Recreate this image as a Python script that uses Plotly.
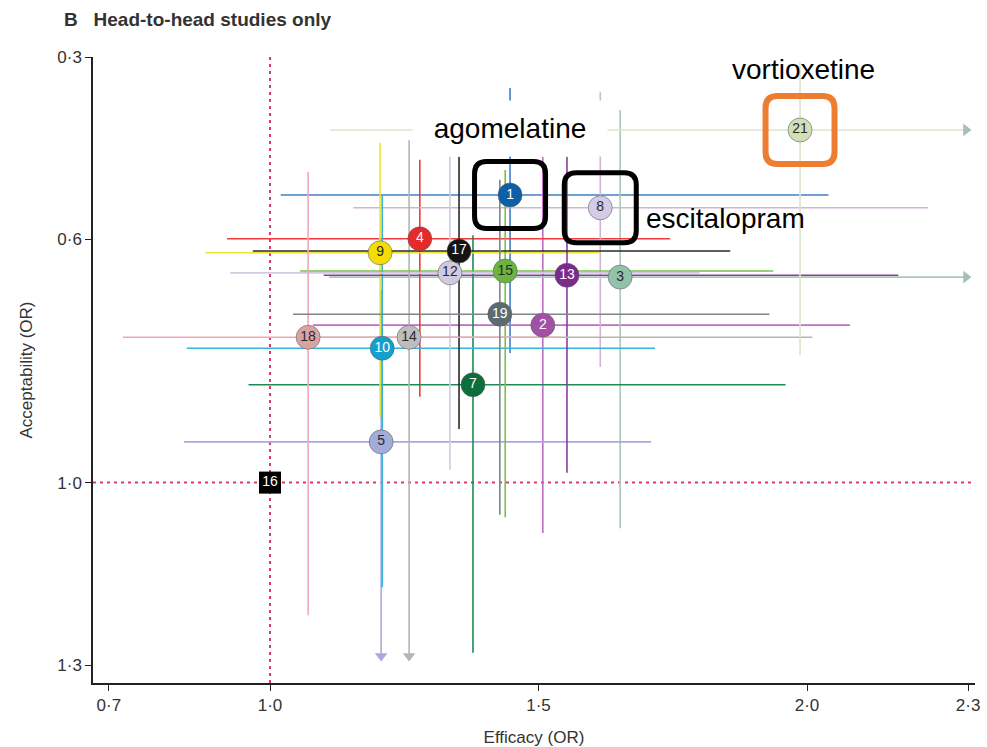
import plotly.graph_objects as go

# Network meta-analysis summary: head-to-head studies only
drug_ids = [1, 2, 3, 4, 5, 7, 8, 9, 10, 12, 13, 14, 15, 17, 18, 19, 21]
efficacy = [1.447, 1.508, 1.652, 1.279, 1.207, 1.378, 1.615, 1.205, 1.209,
            1.335, 1.553, 1.259, 1.438, 1.352, 1.071, 1.428, 1.987]
eff_low = [1.02, 1.08, 1.11, 0.92, 0.84, 0.96, 1.155, 0.88, 0.845,
           0.926, 1.10, 1.056, 1.056, 0.968, 0.726, 1.043, 1.112]
eff_high = [2.04, 2.08, 2.45, 1.745, 1.71, 1.96, 2.225, 1.615, 1.717,
            1.80, 2.17, 2.01, 1.937, 1.857, 1.54, 1.93, 2.60]
acceptability = [0.527, 0.741, 0.662, 0.599, 0.933, 0.839, 0.548, 0.622, 0.779,
                 0.655, 0.659, 0.761, 0.652, 0.619, 0.761, 0.723, 0.420]
acc_low = [0.351, 0.464, 0.387, 0.469, 0.683, 0.593, 0.358, 0.441, 0.527,
           0.464, 0.464, 0.437, 0.486, 0.464, 0.489, 0.502, 0.308]
acc_high = [0.787, 1.083, 1.075, 0.859, 1.45, 1.280, 0.810, 0.892, 1.172,
            0.979, 0.984, 1.40, 1.057, 0.912, 1.218, 1.053, 0.790]

# reference treatment (placebo)
ref_id = 16
ref_efficacy = 1.0
ref_acceptability = 1.0

x_ticks = [0.7, 1.0, 1.5, 2.0, 2.3]
x_tick_labels = ["0·7", "1·0", "1·5", "2·0", "2·3"]
y_ticks = [0.3, 0.6, 1.0, 1.3]
y_tick_labels = ["0·3", "0·6", "1·0", "1·3"]

marker_fill = ["#0d5fa8", "#a24fa6", "#93c2ab", "#e52a2a", "#a3abd8", "#0c6e3c",
               "#d3cce6", "#f3dd05", "#12a1cd", "#d0cbe0", "#7b2b8c", "#bdbdbd",
               "#6db33f", "#141414", "#d9a3a3", "#5b6b72", "#d2deb6"]
line_colors = ["#3f7fc4", "#c06cc8", "#a9c7b9", "#ef3b3b", "#a9a9e0", "#1f8a55",
               "#d2b4d2", "#efe03a", "#35b4dc", "#cfcbdf", "#8b3d9d", "#b5b5b5",
               "#78c24a", "#2a2a2a", "#f2a7b8", "#7d8588", "#dbe4cf"]
dark_fill = {1, 2, 4, 7, 10, 13, 17, 19}

X_RANGE = [0.6704, 2.3128]
Y_RANGE = [1.3296, 0.3]
X_CLIP = 2.296   # intervals running past the axis end in an arrow
Y_CLIP = 1.285

TICK_FONT = "Liberation Sans Narrow, Liberation Sans, Arial, sans-serif"
LABEL_FONT = "Liberation Sans, Arial, sans-serif"

fig = go.Figure()

# reference lines at OR = 1
ref_style = dict(color="#e0386a", width=2, dash="3px,4px")
fig.add_trace(go.Scatter(x=[ref_efficacy, ref_efficacy], y=[0.3, 1.3296], mode="lines",
                         line=ref_style, hoverinfo="skip", showlegend=False))
fig.add_trace(go.Scatter(x=[0.6704, 2.3128], y=[ref_acceptability, ref_acceptability],
                         mode="lines", line=ref_style, hoverinfo="skip", showlegend=False))

# confidence intervals
arrow_right_x, arrow_right_y = [], []
arrow_down_x, arrow_down_y, arrow_down_c = [], [], []
for i, d in enumerate(drug_ids):
    hx = min(eff_high[i], X_CLIP)
    vy = min(acc_high[i], Y_CLIP)
    fig.add_trace(go.Scatter(
        x=[eff_low[i], hx, None, efficacy[i], efficacy[i]],
        y=[acceptability[i], acceptability[i], None, acc_low[i], vy],
        mode="lines", line=dict(color=line_colors[i], width=1.6),
        hoverinfo="skip", showlegend=False))
    if eff_high[i] > X_CLIP:
        arrow_right_x.append(X_CLIP)
        arrow_right_y.append(acceptability[i])
    if acc_high[i] > Y_CLIP:
        arrow_down_x.append(efficacy[i])
        arrow_down_y.append(Y_CLIP)
        arrow_down_c.append(line_colors[i])

fig.add_trace(go.Scatter(x=arrow_right_x, y=arrow_right_y, mode="markers",
                         marker=dict(symbol="triangle-right", size=11, color="#a6bfb4"),
                         hoverinfo="skip", showlegend=False))
fig.add_trace(go.Scatter(x=arrow_down_x, y=arrow_down_y, mode="markers",
                         marker=dict(symbol="triangle-down", size=11, color=arrow_down_c),
                         hoverinfo="skip", showlegend=False))

# numbered treatment markers
fig.add_trace(go.Scatter(
    x=efficacy, y=acceptability, mode="markers+text",
    text=[str(d) for d in drug_ids], textposition="middle center",
    textfont=dict(family=TICK_FONT, size=14,
                  color=["white" if d in dark_fill else "#2a2a2a" for d in drug_ids]),
    marker=dict(size=24, color=marker_fill, line=dict(color="rgba(90,90,90,0.55)", width=1)),
    hoverinfo="skip", showlegend=False))

fig.add_trace(go.Scatter(
    x=[ref_efficacy], y=[ref_acceptability], mode="markers+text",
    text=[str(ref_id)], textposition="middle center",
    textfont=dict(family=TICK_FONT, size=14, color="white"),
    marker=dict(symbol="square", size=22, color="black"),
    hoverinfo="skip", showlegend=False))


def rounded_box(hw, hh, r):
    return (f"M {-hw + r},{-hh} L {hw - r},{-hh} Q {hw},{-hh} {hw},{-hh + r} "
            f"L {hw},{hh - r} Q {hw},{hh} {hw - r},{hh} L {-hw + r},{hh} "
            f"Q {-hw},{hh} {-hw},{hh - r} L {-hw},{-hh + r} Q {-hw},{-hh} {-hw + r},{-hh} Z")


highlight = {1: ("black", 5, 35.5, 33.5), 8: ("black", 5, 36, 35), 21: ("#ed7d31", 6, 34.5, 34)}
for d, (col, w, hw, hh) in highlight.items():
    i = drug_ids.index(d)
    fig.add_shape(type="path", xref="x", yref="y", xsizemode="pixel", ysizemode="pixel",
                  xanchor=efficacy[i], yanchor=acceptability[i],
                  path=rounded_box(hw, hh, 12), line=dict(color=col, width=w),
                  fillcolor="rgba(0,0,0,0)", layer="above")

i1, i8, i21 = drug_ids.index(1), drug_ids.index(8), drug_ids.index(21)
fig.add_annotation(x=efficacy[i1], y=acceptability[i1], yshift=67, text="agomelatine",
                   showarrow=False, font=dict(family=LABEL_FONT, size=28, color="black"),
                   bgcolor="white", borderpad=12, width=170)
fig.add_annotation(x=efficacy[i8], y=acceptability[i8], xshift=44, yshift=-11,
                   xanchor="left", text="escitalopram", showarrow=False,
                   font=dict(family=LABEL_FONT, size=28, color="black"))
fig.add_annotation(x=efficacy[i21], y=acceptability[i21], xshift=3, yshift=60,
                   text="vortioxetine", showarrow=False,
                   font=dict(family=LABEL_FONT, size=28, color="black"))

fig.update_layout(
    width=987, height=747,
    margin=dict(l=93, r=12, t=57, b=64),
    paper_bgcolor="white", plot_bgcolor="white",
    title=dict(text="<b>B</b>   <b>Head-to-head studies only</b>",
               x=64 / 987, xanchor="left", y=1 - 19 / 747, yanchor="middle",
               font=dict(family=TICK_FONT, size=19, color="#333333")),
    xaxis=dict(range=X_RANGE, tickvals=x_ticks, ticktext=x_tick_labels, automargin=False,
               showgrid=False, zeroline=False, showline=True, linecolor="#222222",
               linewidth=1.5, ticks="outside", ticklen=6, tickcolor="#222222",
               tickfont=dict(family=TICK_FONT, size=17, color="#333333"),
               title=dict(text="Efficacy (OR)", standoff=20,
                          font=dict(family=TICK_FONT, size=17, color="#333333"))),
    yaxis=dict(range=Y_RANGE, tickvals=y_ticks, ticktext=y_tick_labels, automargin=False,
               showgrid=False, zeroline=False, showline=True, linecolor="#222222",
               linewidth=1.5, ticks="outside", ticklen=6, tickcolor="#222222",
               tickfont=dict(family=TICK_FONT, size=17, color="#333333"),
               title=dict(text="Acceptability (OR)", standoff=20,
                          font=dict(family=TICK_FONT, size=17, color="#333333"))),
)

fig.write_html("out.html")
